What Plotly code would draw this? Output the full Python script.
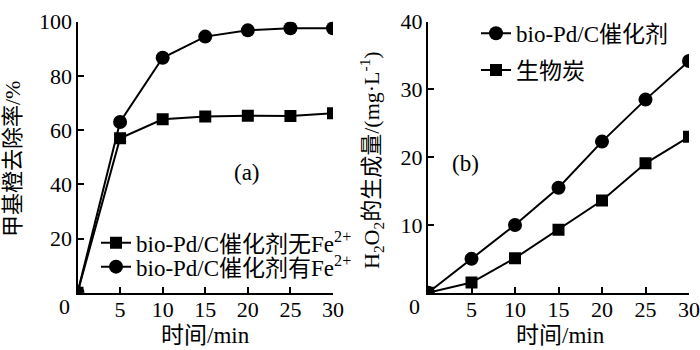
import plotly.graph_objects as go

# ---- data ----
time_a = [0, 5, 10, 15, 20, 25, 30]
no_fe = [0, 57, 64, 65, 65.3, 65.2, 66.2]
with_fe = [0, 63, 86.7, 94.5, 96.8, 97.6, 97.6]

time_b = [0, 5, 10, 15, 20, 25, 30]
bio_pd = [0, 5.0, 10.0, 15.5, 22.3, 28.5, 34.2]
biochar = [0, 1.5, 5.1, 9.3, 13.6, 19.1, 23.0]

x_ticks = [5, 10, 15, 20, 25, 30]
ya_ticks = [20, 40, 60, 80, 100]
yb_ticks = [10, 20, 30, 40]

name_no_fe = "bio-Pd/C催化剂无Fe<sup>2+</sup>"
name_with_fe = "bio-Pd/C催化剂有Fe<sup>2+</sup>"
name_bio_pd = "bio-Pd/C催化剂"
name_biochar = "生物炭"

x_title = "时间/min"
ya_title = "甲基橙去除率/%"
yb_title = "H<sub>2</sub>O<sub>2</sub>的生成量/(mg·L<sup>-1</sup>)"

FONT = "'Liberation Serif', 'Times New Roman', 'Noto Sans CJK SC', serif"
BLACK = "#000000"

fig = go.Figure()

def add(x, y, name, symbol, xa, ya, legend):
    fig.add_trace(go.Scatter(
        x=x, y=y, name=name, mode="lines+markers",
        line=dict(color=BLACK, width=2),
        marker=dict(symbol=symbol, size=14 if symbol == "circle" else 12, color=BLACK),
        xaxis=xa, yaxis=ya, legend=legend, showlegend=True,
    ))

add(time_a, no_fe, name_no_fe, "square", "x", "y", "legend")
add(time_a, with_fe, name_with_fe, "circle", "x", "y", "legend2")
add(time_b, bio_pd, name_bio_pd, "circle", "x2", "y2", "legend3")
add(time_b, biochar, name_biochar, "square", "x2", "y2", "legend4")

W, H = 700, 350
def px(v):
    return v / W
def py(v):
    return 1 - v / H

TICK_SIZE = 22
LEG_SIZE = 23

axis_common = dict(
    showline=True, linecolor=BLACK, linewidth=2,
    ticks="inside", ticklen=6, tickwidth=2, tickcolor=BLACK,
    showgrid=False, zeroline=False, mirror=False,
    tickfont=dict(family=FONT, size=TICK_SIZE, color=BLACK),
    automargin=False, ticklabeloverflow="allow",
)

lg = dict(font=dict(family=FONT, size=LEG_SIZE, color=BLACK), bgcolor="rgba(0,0,0,0)",
          borderwidth=0, xanchor="left", yanchor="middle", itemwidth=30)

fig.update_layout(
    width=W, height=H,
    margin=dict(l=0, r=0, t=0, b=0),
    paper_bgcolor="white", plot_bgcolor="white",
    font=dict(family=FONT, color=BLACK),
    xaxis=dict(domain=[px(77.5), px(333)], range=[0, 30], tickvals=x_ticks,
               ticklabelstandoff=-4, anchor="y", **axis_common),
    yaxis=dict(domain=[py(292.7), py(21.7)], range=[0, 100], tickvals=ya_ticks,
               ticklabelstandoff=-1, anchor="x", **axis_common),
    xaxis2=dict(domain=[px(428), px(689)], range=[0, 30], tickvals=x_ticks,
                ticklabelstandoff=-4, anchor="y2", **axis_common),
    yaxis2=dict(domain=[py(292.7), py(21.7)], range=[0, 40], tickvals=yb_ticks,
                ticklabelstandoff=-1, anchor="x2", **axis_common),
    legend=dict(x=px(96), y=py(242.7), **lg),
    legend2=dict(x=px(96), y=py(266.7), **lg),
    legend3=dict(x=px(476), y=py(33.3), **lg),
    legend4=dict(x=px(476), y=py(70), **lg),
    showlegend=True,
)

def text(x, y, s, size, angle=0, yanchor="middle"):
    fig.add_annotation(x=px(x), y=py(y), xref="paper", yref="paper", text=s,
                       showarrow=False, textangle=angle, xanchor="center", yanchor=yanchor,
                       font=dict(family=FONT, size=size, color=BLACK))

# axis titles
text(205, 350, x_title, 23, yanchor="bottom")
text(560, 350, x_title, 23, yanchor="bottom")
text(12, 159, ya_title, 22, -90)
text(372, 160, yb_title, 22, -90)
# origin "0" labels
text(64, 306, "0", TICK_SIZE)
text(414, 306, "0", TICK_SIZE)
# panel labels
text(246.7, 173, "(a)", 23)
text(465, 163, "(b)", 23)

fig.write_html("out.html")
